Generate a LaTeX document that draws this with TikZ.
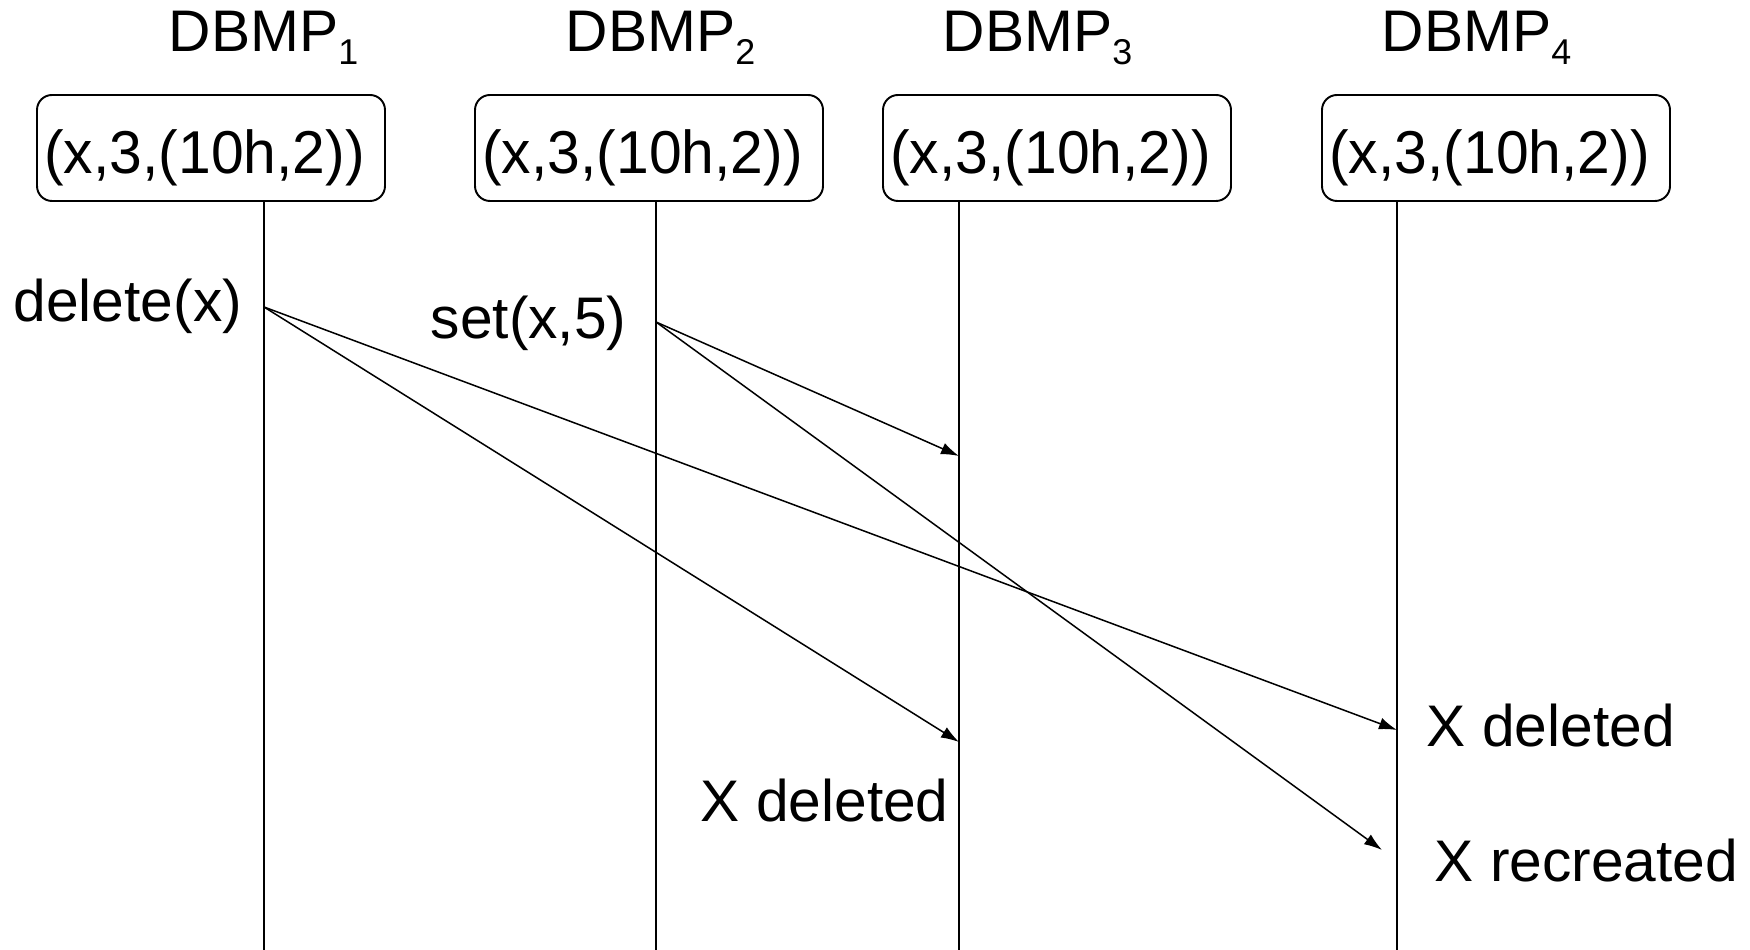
\documentclass[tikz,border=0pt]{standalone}
\usepackage{fontspec}
\usepackage{graphicx}
\setmainfont{Liberation Sans}
\usetikzlibrary{arrows.meta}
\tikzset{
  boxnode/.style={draw, line width=0.55pt, rounded corners=1.5mm, minimum width=34.8mm, minimum height=10.6mm, inner sep=0pt, text height=14.8pt, text depth=0pt, font=\fontsize{16.4pt}{19pt}\selectfont},
  lbl/.style={anchor=base west, inner sep=0pt, font=\fontsize{16.7pt}{19pt}\selectfont},
  life/.style={line width=0.43pt},
  msg/.style={line width=0.43pt, -{Latex[length=1.8mm,width=1.2mm]}}
}
\newcommand{\boxtxt}{\scalebox{1.02}[1.05]{(x,3,(10h,2))}\kern1.3mm}
\newcommand{\dbmp}[1]{DBMP\raisebox{-1.33mm}{\fontsize{10.2pt}{12pt}\selectfont #1}}
\begin{document}
\begin{tikzpicture}[x=0.1mm,y=-0.1mm]
\useasboundingbox (0,0) rectangle (1750,950);
% headers
\node[lbl] (h1) at (168,51.7) {\dbmp{1}};
\node[lbl] (h2) at (565,51.7) {\dbmp{2}};
\node[lbl] (h3) at (942,51.7) {\dbmp{3}};
\node[lbl] (h4) at (1381,51.7) {\dbmp{4}};
% boxes
\node[boxnode] (b1) at (211,148) {\boxtxt};
\node[boxnode] (b2) at (649,148) {\boxtxt};
\node[boxnode] (b3) at (1057,148) {\boxtxt};
\node[boxnode] (b4) at (1496,148) {\boxtxt};
% lifelines
\coordinate (t1) at (264,201); \coordinate (e1) at (264,950);
\coordinate (t2) at (656,201); \coordinate (e2) at (656,950);
\coordinate (t3) at (959,201); \coordinate (e3) at (959,950);
\coordinate (t4) at (1397,201); \coordinate (e4) at (1397,950);
\draw[life] (t1) -- (e1);
\draw[life] (t2) -- (e2);
\draw[life] (t3) -- (e3);
\draw[life] (t4) -- (e4);
% message points
\coordinate (d0) at (264,307);
\coordinate (d3) at (959,742);
\coordinate (d4) at (1397,730);
\coordinate (s0) at (656,322);
\coordinate (s3) at (959,456);
\coordinate (s4) at (1382,850);
\draw[msg] (d0) -- (d3);
\draw[msg] (d0) -- (d4);
\draw[msg] (s0) -- (s3);
\draw[msg] (s0) -- (s4);
% labels
\node[lbl] (ld) at (13,322) {delete(x)};
\node[lbl] (ls) at (430,339) {set(x,5)};
\node[lbl] (x3) at (700,822) {X deleted};
\node[lbl] (x4) at (1426,747) {X deleted};
\node[lbl] (x4r) at (1434,882) {X recreated};
\end{tikzpicture}
\end{document}
